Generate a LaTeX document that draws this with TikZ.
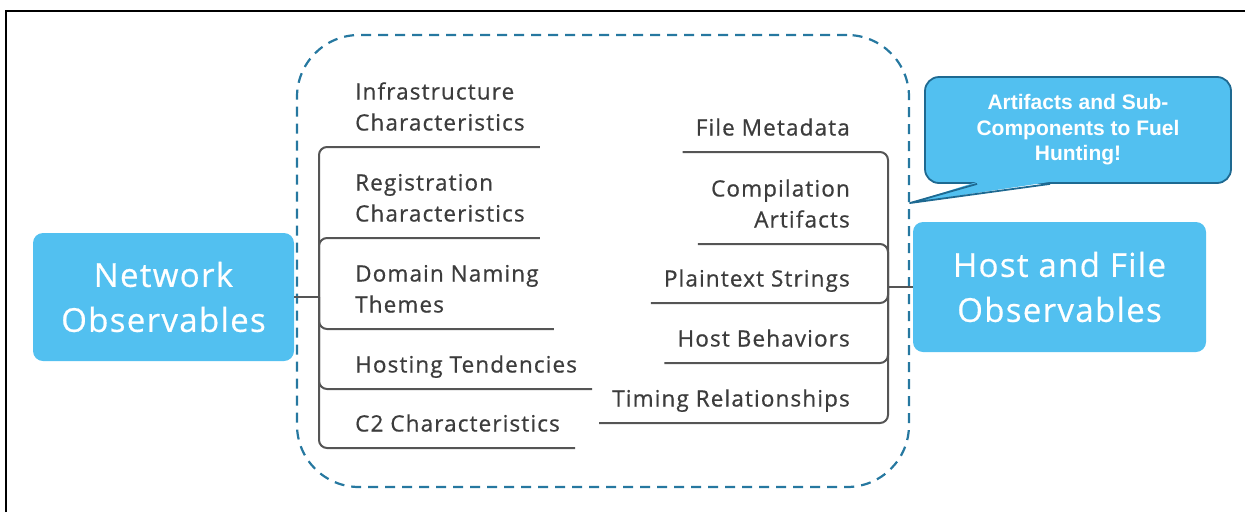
\documentclass[tikz,border=0pt]{standalone}
\usepackage{fontspec}
\setmainfont{Open Sans}[LetterSpace=4, FakeBold=0.5]
\newfontfamily\itemfont{Open Sans}[LetterSpace=5, FakeBold=0.7]
\newfontfamily\calloutfont{Liberation Sans}
\definecolor{skyfill}{RGB}{82,192,240}
\definecolor{calloutedge}{RGB}{30,105,145}
\definecolor{groupdash}{RGB}{38,120,160}
\definecolor{labeltext}{RGB}{60,60,60}
\definecolor{linkgray}{RGB}{85,85,85}
\tikzset{
  observable/.style={fill=skyfill, rounded corners=10pt, text=white, align=center,
    font=\fontsize{33}{45}\selectfont},
  itemtext/.style={text=labeltext, inner ysep=7pt, font=\itemfont\fontsize{22.5}{31}\selectfont,
    execute at end node={\strut}},
  leftitem/.style={itemtext, anchor=south west, align=left, inner xsep=15pt},
  rightitem/.style={itemtext, anchor=south east, align=right, inner xsep=13pt},
  link/.style={draw=linkgray, line width=2pt, rounded corners=8pt},
  groupframe/.style={draw=groupdash, line width=2.2pt, dash pattern=on 10pt off 7pt,
    rounded corners=62pt},
  callout/.style={draw=calloutedge, fill=skyfill, line width=1.8pt, rounded corners=14pt,
    text=white, align=center, font=\calloutfont\bfseries\fontsize{21}{25.5}\selectfont}
}
\begin{document}
\begin{tikzpicture}[x=1pt,y=-1pt]
\useasboundingbox (0,0) rectangle (1245,512);
\draw[line width=1.5pt] (6,512) -- (6,11) -- (1245,11);
% grouping frame
\node[groupframe, minimum width=612pt, minimum height=452pt] (group) at (603,261) {};
% main observables
\node[observable, minimum width=261pt, minimum height=128pt] (net) at (163.5,297) {Network\\Observables};
\node[observable, minimum width=293pt, minimum height=130pt] (host) at (1059.5,287) {Host and File\\Observables};
\coordinate (hubL) at (319,297);
\coordinate (hubR) at (888,287);
% network side
\node[leftitem] (infra) at (340,147) {Infrastructure\\Characteristics};
\node[leftitem] (regis) at (340,238) {Registration\\Characteristics};
\node[leftitem] (domain) at (340,329) {Domain Naming\\Themes};
\node[leftitem] (hosting) at (340,389) {Hosting Tendencies};
\node[leftitem] (ctwo) at (340,448) {C2 Characteristics};
% host and file side
\node[rightitem] (filemeta) at (863,152) {File Metadata};
\node[rightitem] (compil) at (863,244) {Compilation\\Artifacts};
\node[rightitem] (plain) at (863,303) {Plaintext Strings};
\node[rightitem] (hostbeh) at (863,363) {Host Behaviors};
\node[rightitem] (timing) at (863,423) {Timing Relationships};
\draw[link] (net.east) -- (hubL);
\foreach \n in {infra,regis,domain,hosting,ctwo}
  \draw[link] (hubL) |- (\n.south east);
\foreach \n in {filemeta,compil,plain,hostbeh,timing}
  \draw[link] (\n.south west) -| (hubR);
\draw[link] (hubR) -- (host.west);
% callout
\node[callout, minimum width=306pt, minimum height=106pt] (note) at (1078,130) {Artifacts and Sub-\\Components to Fuel\\Hunting!};
\coordinate (tip) at (910,203);
\fill[skyfill] ([xshift=-101pt,yshift=2pt]note.south) -- (tip) -- ([xshift=-28pt,yshift=2pt]note.south) -- cycle;
\draw[calloutedge, line width=1.8pt, line join=round] ([xshift=-101pt]note.south) -- (tip) -- ([xshift=-28pt]note.south);
\end{tikzpicture}
\end{document}
